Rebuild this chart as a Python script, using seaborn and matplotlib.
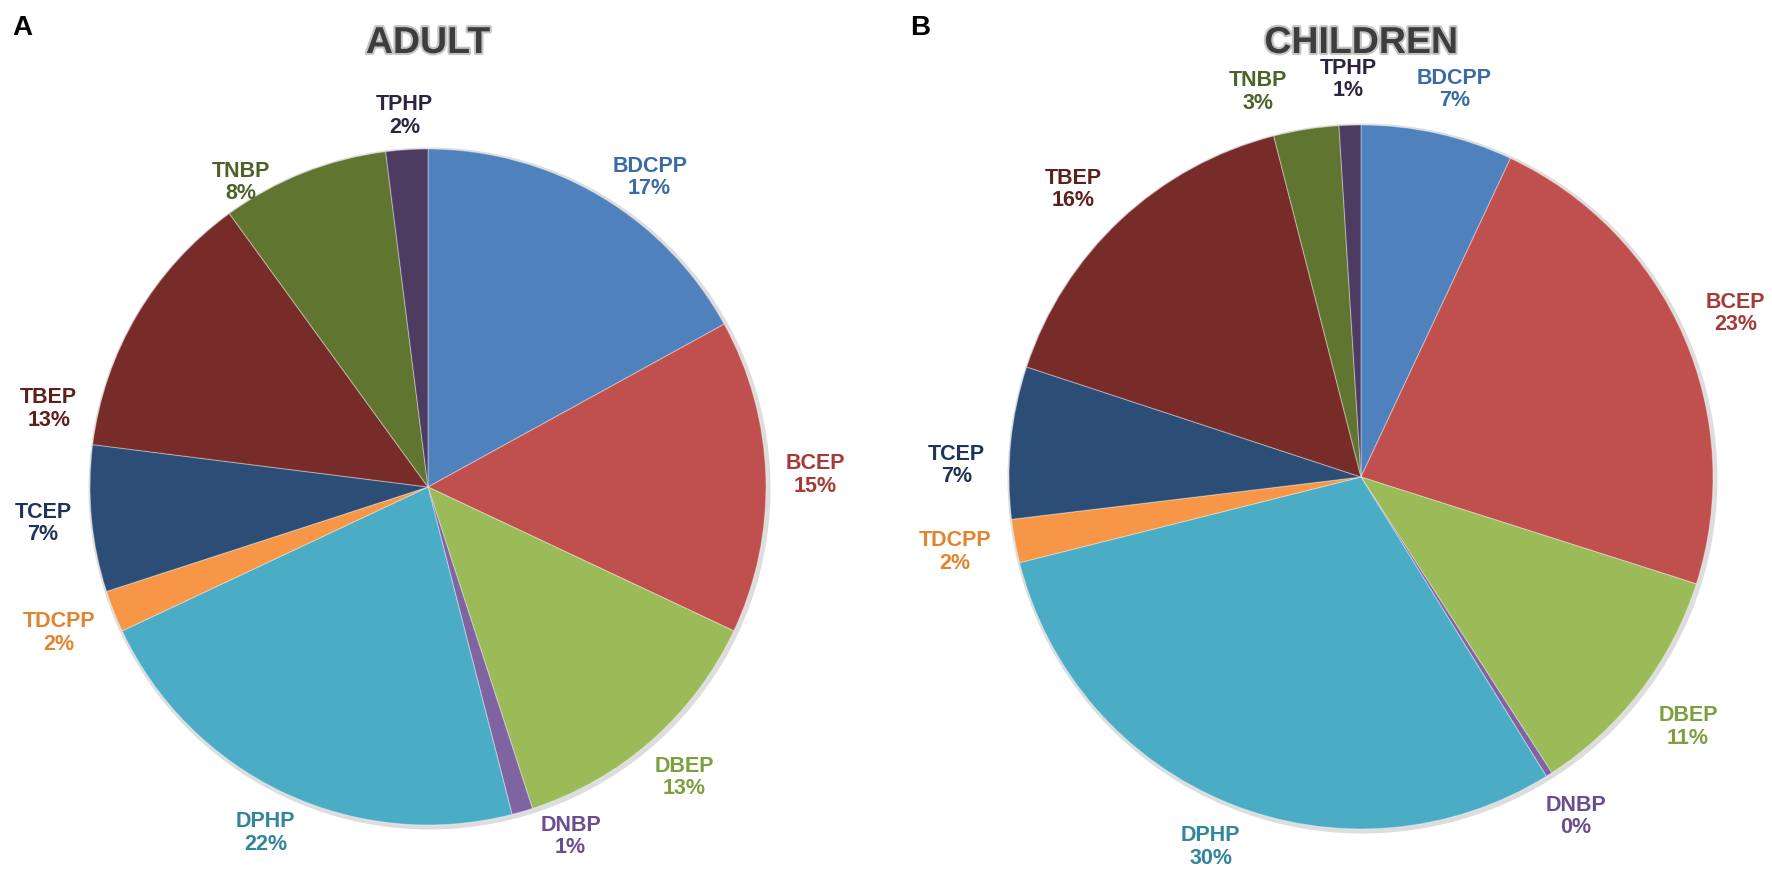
import matplotlib
matplotlib.use("Agg")
import matplotlib.pyplot as plt
import matplotlib.patheffects as pe
from matplotlib.patches import Circle
import numpy as np
import seaborn as sns

# Share of each organophosphate metabolite (%), clockwise from 12 o'clock
compounds = ["BDCPP", "BCEP", "DBEP", "DNBP", "DPHP",
             "TDCPP", "TCEP", "TBEP", "TNBP", "TPHP"]
adult_pct = [17, 15, 13, 1, 22, 2, 7, 13, 8, 2]
children_pct = [7, 23, 11, 0.3, 30, 2, 7, 16, 3, 1]

wedge_colors = ["#4F81BD", "#C0504D", "#9BBB59", "#8064A2", "#4BACC6",
                "#F79646", "#2C4D75", "#772C2A", "#5F7530", "#4D3B62"]
label_colors = ["#3B6BA5", "#A33B38", "#7E9F3E", "#6A4E8E", "#31859C",
                "#E4832E", "#1F3457", "#5E1F1D", "#4F6228", "#2E2440"]

sns.set_theme(style="white")
plt.rcParams["font.family"] = ["Liberation Sans", "DejaVu Sans"]

W, H = 1772, 886
fig = plt.figure(figsize=(W / 100, H / 100), dpi=100)
ax = fig.add_axes([0, 0, 1, 1])
renderer = fig.canvas.get_renderer()


def draw_pie(ax, values, center, radius, title, gap, nudges):
    """Pie with Excel-style outside labels placed along each wedge's mid angle.

    nudges: {name: (extra angle in degrees, extra distance in px)}
    """
    cx, cy = center
    # soft grey halo around the pie
    ax.add_patch(Circle((cx + 1.5, cy - 1.5), radius + 3, facecolor="#dddddd",
                        edgecolor="none", zorder=0))
    wedges, _ = ax.pie(values, colors=wedge_colors, startangle=90,
                       counterclock=False, radius=radius, center=center,
                       wedgeprops=dict(edgecolor=(1, 1, 1, 0.35), linewidth=0.8))
    for w, name, v, c in zip(wedges, compounds, values, label_colors):
        dang, dgap = nudges.get(name, (0, 0))
        theta = np.deg2rad((w.theta1 + w.theta2) / 2 + dang)
        t = ax.text(cx, cy, f"{name}\n{v:.0f}%", ha="center", va="center",
                    fontsize=15.5, fontweight="bold", color=c, linespacing=1.1)
        bb = t.get_window_extent(renderer)
        hw, hh = bb.width / 2, bb.height / 2
        ct, st = abs(np.cos(theta)), abs(np.sin(theta))
        d = min(hw / ct if ct > 1e-6 else np.inf, hh / st if st > 1e-6 else np.inf)
        dist = radius + gap + dgap + d
        t.set_position((cx + dist * np.cos(theta), cy + dist * np.sin(theta)))
    ax.text(cx, H - 43, title, ha="center", va="center", fontsize=27,
            fontweight="bold", color="#3d3d3d",
            path_effects=[pe.withStroke(linewidth=3, foreground="#c4c4c4")])


draw_pie(ax, adult_pct, (428, H - 487), 338, "ADULT", 20,
         {"BDCPP": (-5, -4), "TBEP": (19, 0), "TNBP": (10, -26),
          "TPHP": (0, -8), "DNBP": (6, -4)})
draw_pie(ax, children_pct, (1361, H - 477), 352, "CHILDREN", 24,
         {"TNBP": (6, 0), "TCEP": (4, 0), "TBEP": (2, 0), "BDCPP": (-1, 0)})

# panel letters
ax.text(12, H - 28, "A", ha="left", va="center", fontsize=20,
        fontweight="bold", color="black")
ax.text(910, H - 28, "B", ha="left", va="center", fontsize=20,
        fontweight="bold", color="black")

ax.set_xlim(0, W)
ax.set_ylim(0, H)
ax.set_aspect("equal")
ax.axis("off")

fig.savefig("out.png", dpi=100)
